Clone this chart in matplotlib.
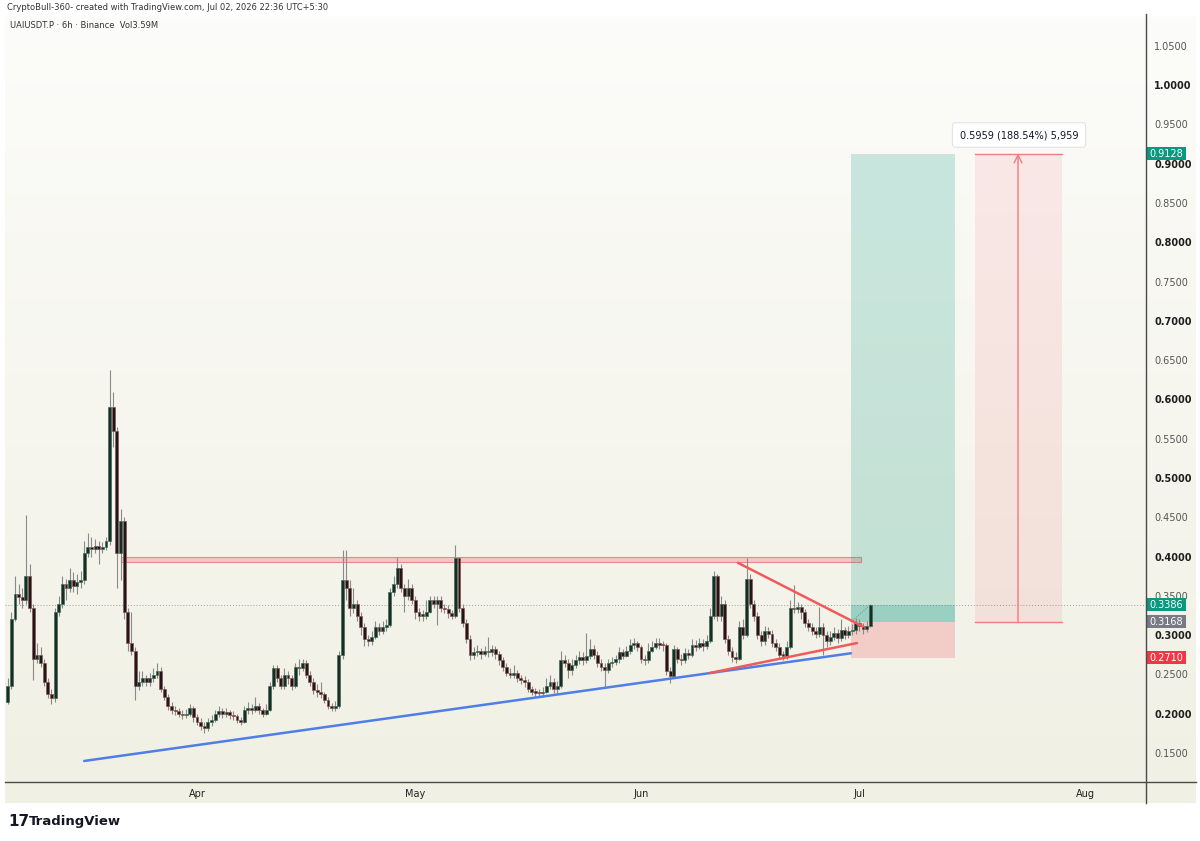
import numpy as np
import pandas as pd
import matplotlib
matplotlib.use("Agg")
import matplotlib.pyplot as plt
import matplotlib.dates as mdates
from matplotlib.colors import LinearSegmentedColormap
from matplotlib.lines import Line2D
from matplotlib.patches import Rectangle

# --- 12h candles, UAIUSDT.P ---
first_open = 0.215
closes = [
    0.235, 0.320, 0.352, 0.348, 0.345, 0.375, 0.335, 0.270, 0.275, 0.265,
    0.240, 0.225, 0.220, 0.330, 0.340, 0.365, 0.360, 0.370, 0.362, 0.368,
    0.370, 0.405, 0.412, 0.410, 0.414, 0.410, 0.412, 0.420, 0.590, 0.560,
    0.405, 0.445, 0.330, 0.290, 0.280, 0.235, 0.240, 0.245, 0.240, 0.245,
    0.250, 0.255, 0.232, 0.222, 0.210, 0.205, 0.203, 0.200, 0.198, 0.200,
    0.207, 0.196, 0.190, 0.185, 0.182, 0.190, 0.192, 0.200, 0.203, 0.200,
    0.202, 0.198, 0.197, 0.192, 0.190, 0.205, 0.208, 0.205, 0.210, 0.205,
    0.200, 0.205, 0.235, 0.258, 0.245, 0.236, 0.250, 0.245, 0.236, 0.260,
    0.258, 0.265, 0.250, 0.240, 0.230, 0.228, 0.225, 0.218, 0.210, 0.207,
    0.210, 0.275, 0.370, 0.360, 0.335, 0.340, 0.325, 0.310, 0.295, 0.292,
    0.298, 0.310, 0.305, 0.310, 0.313, 0.355, 0.365, 0.385, 0.360, 0.350,
    0.360, 0.345, 0.330, 0.325, 0.325, 0.330, 0.345, 0.340, 0.345, 0.335,
    0.333, 0.328, 0.325, 0.398, 0.335, 0.315, 0.295, 0.275, 0.278, 0.280,
    0.276, 0.280, 0.278, 0.282, 0.276, 0.268, 0.260, 0.252, 0.250, 0.252,
    0.245, 0.243, 0.240, 0.232, 0.228, 0.227, 0.226, 0.228, 0.236, 0.240,
    0.232, 0.235, 0.268, 0.265, 0.256, 0.262, 0.268, 0.272, 0.268, 0.274,
    0.283, 0.275, 0.265, 0.260, 0.256, 0.265, 0.266, 0.270, 0.278, 0.274,
    0.280, 0.288, 0.290, 0.285, 0.270, 0.268, 0.280, 0.285, 0.290, 0.288,
    0.287, 0.255, 0.248, 0.282, 0.270, 0.268, 0.277, 0.275, 0.288, 0.285,
    0.290, 0.286, 0.292, 0.325, 0.375, 0.325, 0.340, 0.295, 0.280, 0.272,
    0.270, 0.310, 0.300, 0.372, 0.340, 0.325, 0.300, 0.292, 0.305, 0.302,
    0.290, 0.285, 0.275, 0.274, 0.285, 0.335, 0.333, 0.336, 0.330, 0.315,
    0.310, 0.305, 0.302, 0.310, 0.300, 0.292, 0.298, 0.303, 0.296, 0.306,
    0.300, 0.305, 0.307, 0.316, 0.312, 0.308, 0.312, 0.3386,
]
highs = [
    0.245, 0.330, 0.375, 0.365, 0.360, 0.453, 0.390, 0.340, 0.290, 0.285,
    0.270, 0.245, 0.232, 0.335, 0.350, 0.375, 0.372, 0.385, 0.380, 0.378,
    0.382, 0.420, 0.430, 0.425, 0.422, 0.420, 0.418, 0.425, 0.637, 0.610,
    0.565, 0.460, 0.450, 0.335, 0.330, 0.285, 0.255, 0.255, 0.250, 0.252,
    0.258, 0.265, 0.260, 0.236, 0.225, 0.215, 0.210, 0.207, 0.205, 0.206,
    0.212, 0.210, 0.200, 0.195, 0.190, 0.195, 0.198, 0.205, 0.210, 0.208,
    0.208, 0.205, 0.203, 0.200, 0.196, 0.210, 0.215, 0.212, 0.222, 0.214,
    0.208, 0.212, 0.240, 0.262, 0.262, 0.250, 0.258, 0.255, 0.250, 0.265,
    0.270, 0.270, 0.268, 0.255, 0.245, 0.238, 0.240, 0.228, 0.222, 0.214,
    0.216, 0.280, 0.408, 0.408, 0.370, 0.360, 0.345, 0.330, 0.315, 0.300,
    0.305, 0.318, 0.315, 0.318, 0.320, 0.360, 0.375, 0.400, 0.390, 0.365,
    0.372, 0.365, 0.350, 0.335, 0.332, 0.345, 0.350, 0.350, 0.350, 0.350,
    0.340, 0.338, 0.332, 0.415, 0.400, 0.340, 0.320, 0.300, 0.285, 0.288,
    0.284, 0.286, 0.298, 0.288, 0.286, 0.280, 0.272, 0.265, 0.258, 0.262,
    0.256, 0.250, 0.248, 0.244, 0.236, 0.233, 0.232, 0.234, 0.245, 0.250,
    0.245, 0.242, 0.280, 0.275, 0.270, 0.270, 0.275, 0.280, 0.278, 0.303,
    0.295, 0.288, 0.280, 0.270, 0.265, 0.270, 0.272, 0.275, 0.285, 0.282,
    0.286, 0.295, 0.297, 0.293, 0.288, 0.275, 0.290, 0.292, 0.297, 0.296,
    0.293, 0.290, 0.260, 0.288, 0.285, 0.276, 0.284, 0.283, 0.295, 0.294,
    0.296, 0.295, 0.300, 0.335, 0.382, 0.378, 0.350, 0.345, 0.300, 0.285,
    0.278, 0.318, 0.320, 0.398, 0.378, 0.345, 0.330, 0.305, 0.312, 0.310,
    0.306, 0.295, 0.290, 0.280, 0.292, 0.345, 0.364, 0.342, 0.340, 0.333,
    0.320, 0.315, 0.310, 0.336, 0.315, 0.305, 0.305, 0.310, 0.308, 0.320,
    0.310, 0.312, 0.314, 0.322, 0.320, 0.316, 0.318, 0.3395,
]
lows = [
    0.212, 0.232, 0.318, 0.340, 0.335, 0.340, 0.330, 0.243, 0.265, 0.260,
    0.235, 0.220, 0.213, 0.215, 0.325, 0.335, 0.345, 0.355, 0.355, 0.352,
    0.360, 0.365, 0.400, 0.400, 0.405, 0.390, 0.404, 0.408, 0.415, 0.540,
    0.360, 0.370, 0.320, 0.280, 0.275, 0.218, 0.230, 0.235, 0.235, 0.236,
    0.240, 0.245, 0.228, 0.218, 0.205, 0.200, 0.198, 0.196, 0.194, 0.195,
    0.197, 0.190, 0.186, 0.180, 0.176, 0.178, 0.185, 0.190, 0.196, 0.195,
    0.196, 0.193, 0.192, 0.188, 0.186, 0.188, 0.200, 0.200, 0.202, 0.200,
    0.196, 0.198, 0.203, 0.232, 0.240, 0.232, 0.232, 0.238, 0.230, 0.233,
    0.250, 0.255, 0.245, 0.235, 0.225, 0.222, 0.220, 0.214, 0.206, 0.203,
    0.204, 0.208, 0.270, 0.345, 0.325, 0.328, 0.318, 0.300, 0.286, 0.286,
    0.288, 0.295, 0.300, 0.302, 0.305, 0.310, 0.350, 0.360, 0.355, 0.330,
    0.345, 0.340, 0.320, 0.318, 0.318, 0.320, 0.328, 0.335, 0.313, 0.330,
    0.328, 0.322, 0.320, 0.322, 0.330, 0.310, 0.290, 0.268, 0.270, 0.274,
    0.270, 0.273, 0.272, 0.274, 0.270, 0.262, 0.255, 0.248, 0.245, 0.246,
    0.240, 0.238, 0.234, 0.228, 0.224, 0.222, 0.222, 0.222, 0.226, 0.232,
    0.226, 0.226, 0.233, 0.260, 0.245, 0.250, 0.258, 0.263, 0.262, 0.264,
    0.270, 0.270, 0.260, 0.255, 0.233, 0.252, 0.260, 0.262, 0.265, 0.270,
    0.272, 0.276, 0.283, 0.280, 0.265, 0.262, 0.265, 0.278, 0.282, 0.283,
    0.280, 0.250, 0.239, 0.245, 0.265, 0.262, 0.265, 0.270, 0.272, 0.280,
    0.282, 0.280, 0.283, 0.290, 0.320, 0.318, 0.318, 0.290, 0.275, 0.266,
    0.265, 0.268, 0.295, 0.298, 0.335, 0.318, 0.295, 0.286, 0.288, 0.296,
    0.285, 0.280, 0.270, 0.268, 0.270, 0.283, 0.328, 0.328, 0.320, 0.310,
    0.305, 0.300, 0.296, 0.298, 0.275, 0.285, 0.288, 0.294, 0.290, 0.292,
    0.295, 0.296, 0.300, 0.302, 0.305, 0.302, 0.304, 0.310,
]
first_candle = "2026-03-06 00:00"

# --- drawings on the chart ---
resist_lo, resist_hi = 0.3931, 0.3995
resist_span = ["2026-03-21 12:00", "2026-07-01 06:00"]
blue_line = (["2026-03-16 12:00", "2026-06-29 20:00"], [0.140, 0.277])
red_upper = (["2026-06-14 08:00", "2026-07-01 12:00"], [0.392, 0.311])
red_lower = (["2026-06-10 12:00", "2026-06-30 16:00"], [0.252, 0.290])
entry, target, stop, last = 0.3168, 0.9128, 0.2710, 0.3386
pos_span = ["2026-06-29 20:00", "2026-07-14 03:00"]
proj_span = ["2026-07-16 21:00", "2026-07-28 20:00"]
proj_arrow = "2026-07-22 19:00"
proj_text = "0.5959 (188.54%) 5,959"
price_ticks = [0.15, 0.20, 0.25, 0.30, 0.35, 0.40, 0.45, 0.50, 0.55, 0.60,
               0.65, 0.70, 0.75, 0.80, 0.85, 0.90, 0.95, 1.00, 1.05]
month_ticks = ["2026-04-01", "2026-05-01", "2026-06-01", "2026-07-01", "2026-08-01"]
month_labels = ["Apr", "May", "Jun", "Jul", "Aug"]

W, H = 1200, 841
fx = lambda px: px / W
fy = lambda py: 1 - py / H
d = lambda s: mdates.date2num(pd.Timestamp(s))

# pixel calibration of the reference (Apr 1 at x=197, 7.279 px/day; 1.0 at y=85, 786 px/unit)
APR1 = d("2026-04-01")
px2day = lambda px: APR1 + (px - 197) / 7.279
py2p = lambda py: 1 - (py - 85) / 786

fig = plt.figure(figsize=(12, 8.41), dpi=100, facecolor="white")

# cream panel with a soft vertical gradient
bg = fig.add_axes([fx(5), fy(803), fx(1196) - fx(5), fy(16) - fy(803)])
cmap = LinearSegmentedColormap.from_list("bg", ["#fcfcfa", "#f1f0e4"])
bg.imshow(np.linspace(0, 1, 256).reshape(-1, 1), aspect="auto", cmap=cmap,
          extent=[0, 1, 0, 1])
bg.axis("off")

ax = fig.add_axes([fx(5), fy(782), fx(1146) - fx(5), fy(16) - fy(782)])
ax.patch.set_alpha(0)
ax.set_xlim(px2day(5), px2day(1146))
ax.set_ylim(py2p(782), py2p(16))

# candles
t = mdates.date2num(pd.date_range(first_candle, periods=len(closes), freq="12h"))
o = np.array([first_open] + closes[:-1])
c = np.array(closes)
hi = np.array(highs)
lo = np.array(lows)
up = c >= o
ax.vlines(t, lo, hi, color="#8a8a8a", lw=0.8, zorder=3)
body_b = np.minimum(o, c)
body_h = np.maximum(np.abs(c - o), 0.0015)
ax.bar(t[up], body_h[up], bottom=body_b[up], width=0.4, color="#1f2a25",
       edgecolor="#3b6f5c", lw=0.5, zorder=4)
ax.bar(t[~up], body_h[~up], bottom=body_b[~up], width=0.4, color="#1a1a1a",
       edgecolor="#8f5252", lw=0.5, zorder=4)

# current price dotted line
ax.axhline(last, color="#9a9da6", lw=0.7, ls=(0, (1, 2)), zorder=1)

# resistance band
ax.add_patch(Rectangle((d(resist_span[0]), resist_lo), d(resist_span[1]) - d(resist_span[0]),
                       resist_hi - resist_lo, fc="#f6c4c4", ec="#e58a8a", lw=0.8, zorder=2))

# trend lines
ax.plot([d(s) for s in blue_line[0]], blue_line[1], color="#4f7ee6", lw=1.8, zorder=5,
        solid_capstyle="round")
ax.plot([d(s) for s in red_upper[0]], red_upper[1], color="#ef5a5a", lw=1.8, zorder=5,
        solid_capstyle="round")
ax.plot([d(s) for s in red_lower[0]], red_lower[1], color="#ef5a5a", lw=1.8, zorder=5,
        solid_capstyle="round")

# long position tool
x0, x1 = d(pos_span[0]), d(pos_span[1])
ax.add_patch(Rectangle((x0, entry), x1 - x0, target - entry, fc="#089981", alpha=0.2,
                       lw=0, zorder=2))
ax.add_patch(Rectangle((x0, entry), x1 - x0, last - entry, fc="#089981", alpha=0.22,
                       lw=0, zorder=2))
ax.add_patch(Rectangle((x0, stop), x1 - x0, entry - stop, fc="#f23645", alpha=0.2,
                       lw=0, zorder=2))
ax.plot([x0, t[-1]], [entry, last], color="#7a8a86", lw=0.7, ls=(0, (1, 1.5)), zorder=3)

# projection (price range) box
p0, p1 = d(proj_span[0]), d(proj_span[1])
ax.add_patch(Rectangle((p0, entry), p1 - p0, target - entry, fc="#f23645", alpha=0.09,
                       lw=0, zorder=2))
ax.plot([p0, p1], [target, target], color="#f07c7c", lw=1.0, zorder=3)
ax.plot([p0, p1], [entry, entry], color="#f07c7c", lw=1.0, zorder=3)
ax.annotate("", xy=(d(proj_arrow), target), xytext=(d(proj_arrow), entry),
            arrowprops=dict(arrowstyle="->", color="#f07c7c", lw=1.0,
                            mutation_scale=14, shrinkA=0, shrinkB=0), zorder=3)
ax.text(px2day(1019), py2p(135), proj_text, ha="center", va="center", fontsize=7,
        color="#131722", zorder=6,
        bbox=dict(boxstyle="round,pad=0.75,rounding_size=0.3", fc="white",
                  ec="#e3e3e3", lw=0.8))

# axes styling
for s in ax.spines.values():
    s.set_visible(False)
ax.yaxis.tick_right()
ax.set_yticks(price_ticks)
ax.set_yticklabels([f"{v:.4f}" for v in price_ticks])
ax.tick_params(axis="y", length=0, pad=6, labelsize=7)
for v, lab in zip(price_ticks, ax.get_yticklabels()):
    if round(v * 100) % 10 == 0:
        lab.set_color("#1e1e1e")
        lab.set_fontweight("bold")
    else:
        lab.set_color("#555555")
ax.set_xticks([d(s) for s in month_ticks])
ax.set_xticklabels(month_labels)
ax.tick_params(axis="x", length=0, pad=5, labelsize=7, labelcolor="#222222")

# price tags on the scale
ytr = ax.get_yaxis_transform()
tag_w = 40 / 1141
tag_h = 13 / 786
for val, col in [(target, "#089981"), (last, "#089981"), (entry, "#787b86"), (stop, "#f23645")]:
    ax.add_patch(Rectangle((1.0, val - tag_h / 2), tag_w, tag_h, transform=ytr,
                           fc=col, ec="none", clip_on=False, zorder=7))
    ax.text(1.0 + tag_w / 2, val, f"{val:.4f}", transform=ytr, ha="center",
            va="center", fontsize=7, color="white", clip_on=False, zorder=8)

# frame lines
fig.add_artist(Line2D([fx(5), fx(1196)], [fy(782), fy(782)], color="#4a4a4a", lw=1))
fig.add_artist(Line2D([fx(1146), fx(1146)], [fy(14), fy(803)], color="#4a4a4a", lw=1))

# header / footer texts
fig.text(fx(7), fy(8), "CryptoBull-360- created with TradingView.com, Jul 02, 2026 22:36 UTC+5:30",
         fontsize=6, color="#333333", va="center", ha="left")
fig.text(fx(10), fy(25), "UAIUSDT.P \u00b7 6h \u00b7 Binance  Vol3.59M",
         fontsize=6, color="#333333", va="center", ha="left")
fig.text(fx(8), fy(822), "17", fontsize=11, fontweight="heavy", color="#131722",
         va="center", ha="left")
fig.text(fx(29), fy(822), "TradingView", fontsize=9.5, fontweight="bold",
         color="#131722", va="center", ha="left")

fig.savefig("out.png", dpi=100, facecolor="white")
